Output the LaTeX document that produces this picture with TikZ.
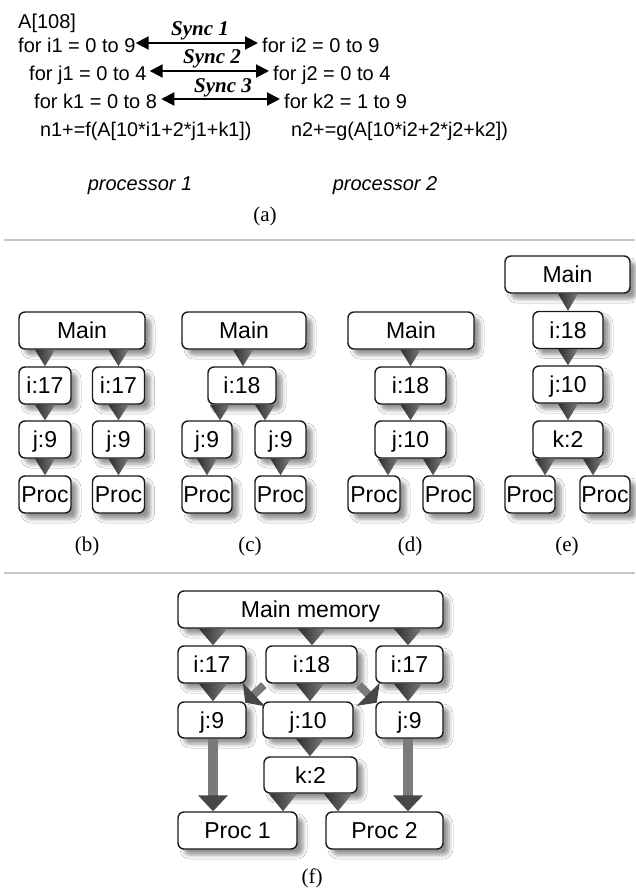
\documentclass[tikz,border=0pt]{standalone}
\usepackage{fontspec}
\setmainfont{Liberation Serif}
\setsansfont{Liberation Sans}
\usetikzlibrary{arrows.meta,shadows,shadows.blur,calc}
\tikzset{
  code/.style={font=\sffamily\fontsize{20}{24}\selectfont, inner sep=0pt, anchor=base west, text height=15pt, text depth=5pt},
  codesm/.style={code, font=\sffamily\fontsize{19.8}{22}\selectfont},
  syncarrow/.style={line width=2pt, {Triangle[length=13pt,width=13pt]}-{Triangle[length=13pt,width=13pt]}, shorten >=4pt},
  synclbl/.style={font=\fontsize{21}{24}\selectfont\bfseries\itshape, anchor=base, inner sep=0pt},
  proclbl/.style={font=\sffamily\itshape\fontsize{20}{24}\selectfont, anchor=base, inner sep=0pt},
  caplbl/.style={font=\fontsize{21}{24}\selectfont, anchor=base, inner sep=0pt},
  sepline/.style={line width=1.8pt, draw=black!22},
  box/.style={draw=black!90, line width=1.4pt, rounded corners=6pt, fill=white,
    font=\sffamily\fontsize{23}{26}\selectfont, inner sep=0pt, minimum height=37pt,
    text height=16.5pt, text depth=0pt,
    blur shadow={shadow xshift=6pt, shadow yshift=-6pt, shadow blur radius=4pt, shadow opacity=42}},
  tri/.style={left color=black!82, right color=black!52},
  fatarrow/.style={line width=10pt, draw=black!52, -{Triangle[length=16pt,width=29pt,color=black!72]}},
  diagarrow/.style={line width=8pt, draw=black!52, -{Triangle[length=12pt,width=32pt,color=black!72]}, shorten <=2pt, shorten >=-2pt},
}
\newcommand\contri[4]{\path[tri] (#1-#4,0 |- #2.south) -- (#1+#4,0 |- #2.south) -- (#1,0 |- #3.north) -- cycle;}
\begin{document}
\begin{tikzpicture}[x=1pt,y=-1pt]
\useasboundingbox[fill=white] (0,0) rectangle (635,894);

% ---------- (a)
\node[code] (A) at (18,28) {A[108]};
\node[code] (i1) at (18,52) {for i1 = 0 to 9};
\node[code] (j1) at (29,80) {for j1 = 0 to 4};
\node[code] (k1) at (34,108) {for k1 = 0 to 8};
\node[codesm] (n1) at (40,136) {n1+=f(A[10*i1+2*j1+k1])};
\node[code] (i2) at (262,52) {for i2 = 0 to 9};
\node[code] (j2) at (273,80) {for j2 = 0 to 4};
\node[code] (k2) at (284,108) {for k2 = 1 to 9};
\node[codesm] (n2) at (291,136) {n2+=g(A[10*i2+2*j2+k2])};

\draw[syncarrow] ([yshift=4pt]i1.east) -- ([yshift=4pt]i2.west);
\draw[syncarrow, shorten <=3pt] ([yshift=4pt]j1.east) -- ([yshift=4pt]j2.west);
\draw[syncarrow, shorten <=4pt] ([yshift=4pt]k1.east) -- ([yshift=4pt]k2.west);

\node[synclbl] (s1) at (200,35) {Sync 1};
\node[synclbl] (s2) at (212,63) {Sync 2};
\node[synclbl] (s3) at (223,92) {Sync 3};

\node[proclbl] (pr1) at (140,190) {processor 1};
\node[proclbl] (pr2) at (385,190) {processor 2};
\node[caplbl] (capa) at (265,221) {(a)};

\draw[sepline] (4,240) -- (635,240);
\draw[sepline] (4,573) -- (635,573);

% ---------- (b)
\node[box, minimum width=126pt] (bM) at (82,330.5) {Main};
\node[box, minimum width=52pt] (bI1) at (45,385.5) {i:17};
\node[box, minimum width=52pt] (bI2) at (118.5,385.5) {i:17};
\node[box, minimum width=52pt] (bJ1) at (45,439.5) {j:9};
\node[box, minimum width=52pt] (bJ2) at (118.5,439.5) {j:9};
\node[box, minimum width=52pt] (bP1) at (45,494.5) {Proc};
\node[box, minimum width=52pt] (bP2) at (118.5,494.5) {Proc};
\node[caplbl] (capb) at (87,551) {(b)};

% ---------- (c)
\node[box, minimum width=124pt] (cM) at (244,330.5) {Main};
\node[box, minimum width=68pt] (cI) at (242,385.5) {i:18};
\node[box, minimum width=50pt] (cJ1) at (207,439.5) {j:9};
\node[box, minimum width=51pt] (cJ2) at (280.5,439.5) {j:9};
\node[box, minimum width=50pt] (cP1) at (207,494.5) {Proc};
\node[box, minimum width=51pt] (cP2) at (280.5,494.5) {Proc};
\node[caplbl] (capc) at (250,551) {(c)};

% ---------- (d)
\node[box, minimum width=126pt] (dM) at (411,330.5) {Main};
\node[box, minimum width=71pt] (dI) at (410.5,385.5) {i:18};
\node[box, minimum width=71pt] (dJ) at (410.5,439.5) {j:10};
\node[box, minimum width=52pt] (dP1) at (374,494.5) {Proc};
\node[box, minimum width=51pt] (dP2) at (448.5,494.5) {Proc};
\node[caplbl] (capd) at (410,551) {(d)};

% ---------- (e)
\node[box, minimum width=125pt] (eM) at (567.5,274.5) {Main};
\node[box, minimum width=70pt] (eI) at (568,330) {i:18};
\node[box, minimum width=70pt] (eJ) at (568,384.5) {j:10};
\node[box, minimum width=70pt] (eK) at (568,439.5) {k:2};
\node[box, minimum width=50pt] (eP1) at (530,494.5) {Proc};
\node[box, minimum width=50pt] (eP2) at (605,494.5) {Proc};
\node[caplbl] (cape) at (567,551) {(e)};

% ---------- (f)
\node[box, minimum width=265pt] (fM) at (310.5,609.5) {Main memory};
\node[box, minimum width=68pt] (fI1) at (212,664.5) {i:17};
\node[box, minimum width=91pt] (fI) at (311.5,664.5) {i:18};
\node[box, minimum width=67pt] (fI2) at (409.5,664.5) {i:17};
\node[box, minimum width=68pt, minimum height=36pt] (fJ1) at (212,720) {j:9};
\node[box, minimum width=90pt, minimum height=36pt] (fJ) at (308,720) {j:10};
\node[box, minimum width=67pt, minimum height=36pt] (fJ2) at (409.5,720) {j:9};
\node[box, minimum width=93pt, minimum height=36pt] (fK) at (310.5,775) {k:2};
\node[box, minimum width=119pt] (fP1) at (237.5,830.5) {Proc 1};
\node[box, minimum width=117pt] (fP2) at (384.5,830.5) {Proc 2};
\node[caplbl] (capf) at (312,883) {(f)};

% ---------- connectors
\contri{45}{bM}{bI1}{10}
\contri{118.5}{bM}{bI2}{10}
\contri{45}{bI1}{bJ1}{10}
\contri{118.5}{bI2}{bJ2}{10}
\contri{45}{bJ1}{bP1}{10}
\contri{118.5}{bJ2}{bP2}{10}

\contri{243}{cM}{cI}{10}
\contri{220}{cI}{cJ1}{10}
\contri{265}{cI}{cJ2}{10}
\contri{207}{cJ1}{cP1}{10}
\contri{280.5}{cJ2}{cP2}{10}

\contri{410.5}{dM}{dI}{10}
\contri{410.5}{dI}{dJ}{10}
\contri{388}{dJ}{dP1}{10}
\contri{433}{dJ}{dP2}{10}

\contri{568}{eM}{eI}{10}
\contri{568}{eI}{eJ}{10}
\contri{568}{eJ}{eK}{10}
\contri{545}{eK}{eP1}{10}
\contri{593}{eK}{eP2}{10}

\contri{213}{fM}{fI1}{14}
\contri{312}{fM}{fI}{14}
\contri{408}{fM}{fI2}{14}
\contri{213}{fI1}{fJ1}{14}
\contri{310}{fI}{fJ}{14}
\contri{408}{fI2}{fJ2}{14}
\contri{310}{fJ}{fK}{14}
\contri{283}{fK}{fP1}{14}
\contri{338}{fK}{fP2}{14}

\draw[fatarrow] (213,0 |- fJ1.south) -- (213,0 |- fP1.north);
\draw[fatarrow] (408,0 |- fJ2.south) -- (408,0 |- fP2.north);
\draw[diagarrow] (fI.south west) -- (fJ1.north east);
\draw[diagarrow] (fI.south east) -- (fJ2.north west);
\end{tikzpicture}
\end{document}
